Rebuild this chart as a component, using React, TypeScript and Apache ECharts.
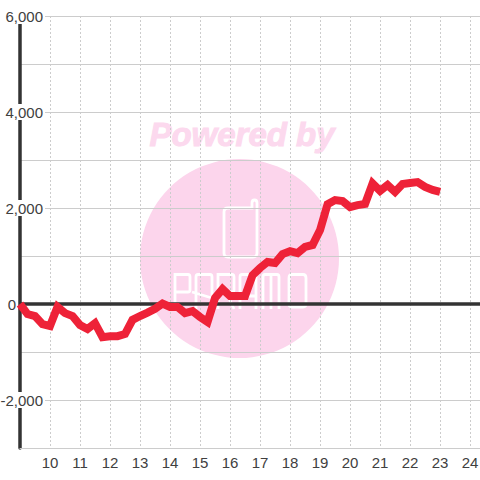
import React, { useEffect, useRef } from "react";
import * as echarts from "echarts";

const hours = [
  9, 9.25, 9.5, 9.75, 10, 10.25, 10.5, 10.75, 11, 11.25, 11.5, 11.75, 12, 12.25, 12.5, 12.75,
  13, 13.25, 13.5, 13.75, 14, 14.25, 14.5, 14.75, 15, 15.25, 15.5, 15.75, 16, 16.25, 16.5, 16.75,
  17, 17.25, 17.5, 17.75, 18, 18.25, 18.5, 18.75, 19, 19.25, 19.5, 19.75, 20, 20.25, 20.5, 20.75,
  21, 21.25, 21.5, 21.75, 22, 22.25, 22.5, 22.75, 23,
];
const values = [
  0, -210, -250, -420, -460, -60, -190, -250, -440, -520, -400, -690, -670, -670, -625, -330,
  -250, -180, -100, 10, -60, -60, -190, -150, -270, -375, 125, 310, 165, 165, 165, 600,
  750, 875, 855, 1040, 1100, 1060, 1190, 1230, 1540, 2080, 2165, 2145, 2020, 2060, 2085, 2510,
  2355, 2480, 2335, 2500, 2520, 2540, 2440, 2375, 2335,
];
const labelledTicks = [6000, 4000, 2000, -2000];
const watermarkText = "Powered by";

const logoPath =
  "M224 212 Q224 208 228 208 H252 V203 Q252 200 254.5 200 Q257 200 257 203 V253 Q257 257 253 257 H228 Q224 257 224 253 Z " +
  "M175 309 V274.5 H188 Q190 274.5 190 277 V290 Q190 292 188 292 H175 " +
  "M196 309 V277 Q196 274.5 198 274.5 H210 Q212 274.5 212 277 V309 M192 292 L212 298 " +
  "M218 309 V274.5 H232 Q234 274.5 234 277 V290 Q234 292 232 292 H218 M226 292 L234 309 " +
  "M240 309 V277 Q240 274.5 242 274.5 H254 Q256 274.5 256 277 V309 M240 296 H256 " +
  "M263 309 V277 Q263 274.5 265 274.5 H277 Q279 274.5 279 277 V309 M271 274.5 V309 " +
  "M292 274.5 H303 Q306 274.5 306 278 V304 Q306 307 303 307 H292 Q289 307 289 304 V278 Q289 274.5 292 274.5 Z";

echarts.graphic.registerShape("paramoLogo", echarts.graphic.extendPath(logoPath, {}));

export default function App() {
  const ref = useRef<HTMLDivElement>(null);

  useEffect(() => {
    document.body.style.margin = "0";
    const chart = echarts.init(ref.current!, undefined, { renderer: "svg" });
    const textColor = "#404040";
    chart.setOption({
      animation: false,
      backgroundColor: "#fff",
      grid: { left: 20, right: 0, top: 16, bottom: 32, outerBoundsMode: "none" },
      graphic: {
        z: -1,
        elements: [
          {
            type: "circle",
            z: -1,
            shape: { cx: 239.5, cy: 258.5, r: 99.5 },
            style: { fill: "#fcd5ec" },
          },
          {
            type: "text",
            z: -1,
            x: 242,
            y: 134,
            style: {
              text: watermarkText,
              fill: "#fcd9ee",
              stroke: "#fcd9ee",
              lineWidth: 1,
              font: "italic bold 33px 'Liberation Sans', Arial, sans-serif",
              textAlign: "center",
              textVerticalAlign: "middle",
            },
          },
          {
            type: "paramoLogo",
            z: -1,
            x: 0,
            y: 0,
            style: { fill: "none", stroke: "#ffffff", lineWidth: 2.8 },
          },
        ],
      },
      xAxis: {
        type: "value",
        min: 9,
        max: 24.33,
        interval: 1,
        axisLine: { onZero: false, show: true, lineStyle: { color: "#ccc", width: 1 } },
        axisTick: { show: false },
        axisLabel: {
          color: textColor,
          fontFamily: "Liberation Sans",
          fontSize: 15,
          margin: 7,
          showMinLabel: false,
          showMaxLabel: false,
        },
        splitLine: { show: true, lineStyle: { color: "#ccc", width: 1, type: [2, 2] } },
      },
      yAxis: {
        type: "value",
        min: -3000,
        max: 6000,
        interval: 1000,
        axisLine: { show: true, onZero: false, lineStyle: { color: "#333", width: 3.5 } },
        axisTick: { show: false },
        axisLabel: {
          inside: true,
          align: "right",
          margin: 25,
          color: textColor,
          fontFamily: "Liberation Sans",
          fontSize: 15,
          formatter: (v: number) => {
            if (v === 0) return "{z|0}";
            if (labelledTicks.includes(v)) return "{a|" + v.toLocaleString("en-US") + "}";
            return "";
          },
          rich: {
            a: {
              color: textColor,
              fontFamily: "Liberation Sans",
              fontSize: 15,
              lineHeight: 13,
              backgroundColor: "#fff",
              padding: [1, 2, 0, 2],
            },
            z: {
              color: textColor,
              fontFamily: "Liberation Sans",
              fontSize: 15,
              lineHeight: 13,
              padding: [1, 29, 0, 0],
            },
          },
        },
        splitLine: { show: true, lineStyle: { color: "#ccc", width: 1 } },
      },
      series: [
        {
          type: "line",
          z: 3,
          clip: false,
          symbol: "none",
          data: hours.map((h, i) => [h, values[i]]),
          lineStyle: { color: "#ee2238", width: 8, join: "miter" },
          markLine: {
            z: 1,
            silent: true,
            symbol: "none",
            label: { show: false },
            lineStyle: { color: "#333", width: 3.5, type: "solid" },
            data: [{ yAxis: 0 }],
          },
        },
      ],
    });
    return () => chart.dispose();
  }, []);

  return <div ref={ref} style={{ width: 480, height: 480 }} />;
}
